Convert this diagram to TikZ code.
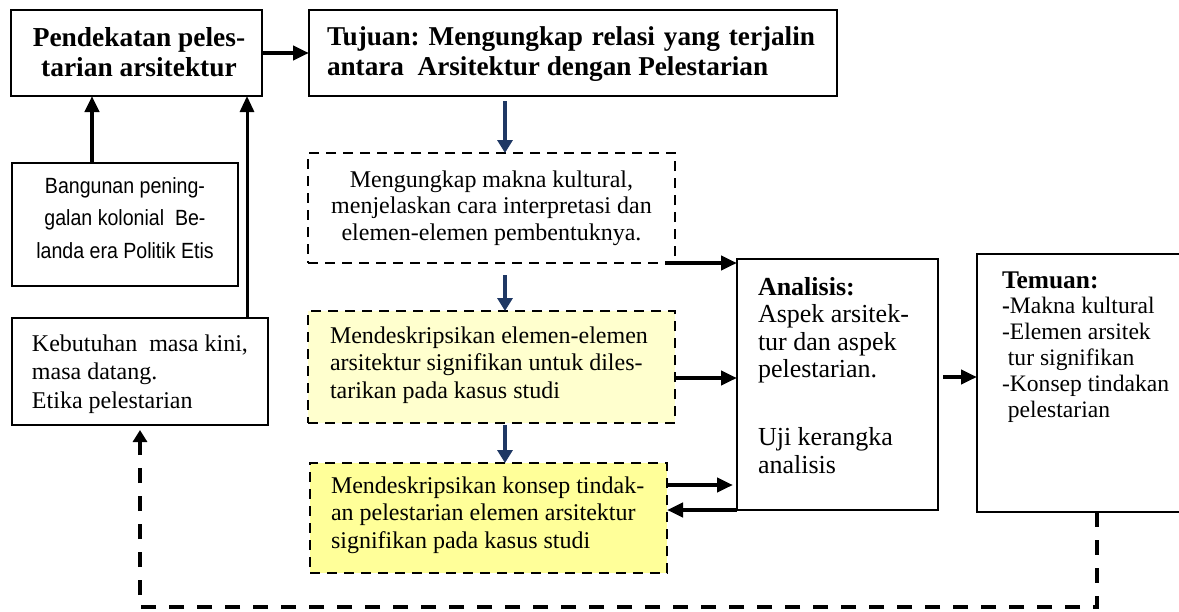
\documentclass[tikz,border=0pt]{standalone}
\usepackage{fontspec}
\setmainfont{Liberation Serif}
\newfontfamily\condsans[FakeStretch=0.89]{Liberation Sans}
\usetikzlibrary{arrows.meta,fit,calc}

\definecolor{navy}{RGB}{31,56,100}
\definecolor{paleyellow}{RGB}{255,255,206}
\definecolor{yellowfill}{RGB}{255,255,153}

% stacked lines with a fixed baseline distance; the node baseline is the first line
\newcommand\linesL[2]{\vtop{\baselineskip=#1\relax\lineskiplimit=-20pt\lineskip=0pt\halign{##\hfil\cr#2\crcr}}}
\newcommand\linesC[2]{\vtop{\baselineskip=#1\relax\lineskiplimit=-20pt\lineskip=0pt\halign{\hfil##\hfil\cr#2\crcr}}}

\tikzset{
  box/.style={draw=black, line width=1pt, fill=white, inner sep=0pt, outer sep=0pt},
  dbox/.style={draw=black, line width=1.3pt, dash pattern=on 5pt off 3.5pt, inner sep=0pt, outer sep=0pt},
  txt/.style={inner sep=0pt, outer sep=0pt},
  arr/.style={draw=black, line width=2pt, -{Triangle[length=8pt,width=7pt]}},
  thinarr/.style={draw=black, line width=1.5pt, -{Triangle[length=8pt,width=7pt]}},
  barr/.style={draw=navy, line width=2pt, -{Triangle[length=6.5pt,width=7.5pt]}},
  feedback/.style={draw=black, line width=2pt, dash pattern=on 7.5pt off 6.5pt,
    -{Triangle[length=6pt,width=7pt]}},
}

\begin{document}
\frenchspacing
\begin{tikzpicture}[x=0.5pt,y=-0.5pt]
\useasboundingbox (0,0) rectangle (1179,611);

% ---------- boxes ----------
\node[box, fit={(11,10) (262,96)}] (A) {};
\node[box, fit={(309,10) (837,96)}] (B) {};
\node[box, fit={(12,163) (238,286)}] (C) {};
\node[box, fit={(12,318) (268,425)}] (D) {};
\node[dbox, fill=white, fit={(308,153) (675,263)}] (E) {};
\node[dbox, fill=paleyellow, fit={(308,311) (675,423)}] (F) {};
\node[dbox, fill=yellowfill, fit={(310,463) (667,573)}] (G) {};
\node[box, fit={(737,259) (938,510)}] (H) {};
\node[box, fit={(977,254) (1217,512)}] (I) {};

% ---------- texts ----------
\node[txt, anchor=base] (tA) at (139,46)
  {\bfseries\fontsize{13.7}{16}\selectfont\linesC{15.3pt}{Pendekatan peles-\cr tarian arsitektur}};
\node[txt, anchor=base west] (tB) at (327,45)
  {\bfseries\fontsize{13.6}{16}\selectfont\linesL{15.3pt}{\hbox to 244pt{Tujuan: Mengungkap relasi yang terjalin}\cr antara\ \ Arsitektur dengan Pelestarian}};
\node[txt, anchor=base] (tC) at (125,193)
  {\condsans\fontsize{11}{13}\selectfont\linesC{16.3pt}{Bangunan pening-\cr galan kolonial\ \ Be-\cr landa era Politik Etis}};
\node[txt, anchor=base west] (tD) at (32,351)
  {\fontsize{12}{14}\selectfont\linesL{14.4pt}{Kebutuhan\ \ masa kini,\cr masa datang.\cr Etika pelestarian}};
\node[txt, anchor=base] (tE) at (491.5,187)
  {\fontsize{12}{14}\selectfont\linesC{13.4pt}{Mengungkap makna kultural,\cr menjelaskan cara interpretasi dan\cr elemen-elemen pembentuknya.}};
\node[txt, anchor=base west] (tF) at (330,343)
  {\fontsize{12}{14}\selectfont\linesL{13.9pt}{Mendeskripsikan elemen-elemen\cr arsitektur signifikan untuk diles-\cr tarikan pada kasus studi}};
\node[txt, anchor=base west] (tG) at (331,493)
  {\fontsize{12}{14}\selectfont\linesL{13.9pt}{Mendeskripsikan konsep tindak-\cr an pelestarian elemen arsitektur\cr signifikan pada kasus studi}};
\node[txt, anchor=base west] (tH) at (758,295)
  {\fontsize{13}{15}\selectfont\linesL{13.8pt}{\textbf{Analisis:}\cr Aspek arsitek-\cr tur dan aspek\cr pelestarian.\cr\noalign{\vskip 20pt} Uji kerangka\cr analisis}};
\node[txt, anchor=base west] (tI) at (1002,288)
  {\fontsize{11.8}{14}\selectfont\linesL{12.9pt}{{\bfseries\fontsize{12.7}{14}\selectfont Temuan:}\cr \textbf{-}Makna kultural\cr -Elemen arsitek\cr \ tur signifikan\cr -Konsep tindakan\cr \ pelestarian}};

% ---------- connectors ----------
\draw[arr] (A.east) -- (B.west);

\coordinate (c1) at ($(C.north west)+(80,0)$);
\draw[arr] (c1) -- (c1 |- A.south);
\coordinate (d1) at ($(D.north west)+(235,0)$);
\draw[thinarr] (d1) -- (d1 |- A.south);

\coordinate (b1) at ($(B.south west)+(196,5)$);
\draw[barr] (b1) -- (b1 |- E.north);
\coordinate (e1) at ($(E.south west)+(197,12)$);
\draw[barr] (e1) -- (e1 |- F.north);
\coordinate (f1) at ($(F.south west)+(197,2)$);
\draw[barr] (f1) -- (f1 |- G.north);

\coordinate (e2) at ($(E.south east)+(-10,0)$);
\draw[arr] (e2) -- (e2 -| H.west);
\coordinate (f2) at ($(F.south east)+(0,-45)$);
\draw[arr] (f2) -- (f2 -| H.west);
\coordinate (g1) at ($(G.north east)+(0,22)$);
\draw[arr, shorten >=2pt] (g1) -- (g1 -| H.west);
\draw[arr] (H.south west) -- (H.south west -| G.east);
\coordinate (h1) at ($(H.south east)+(5,-133)$);
\draw[arr] (h1) -- (h1 -| I.west);

\draw[feedback, shorten >=2.5pt] (I.south) -- ++(0,95) -| (D.south);
\end{tikzpicture}
\end{document}
